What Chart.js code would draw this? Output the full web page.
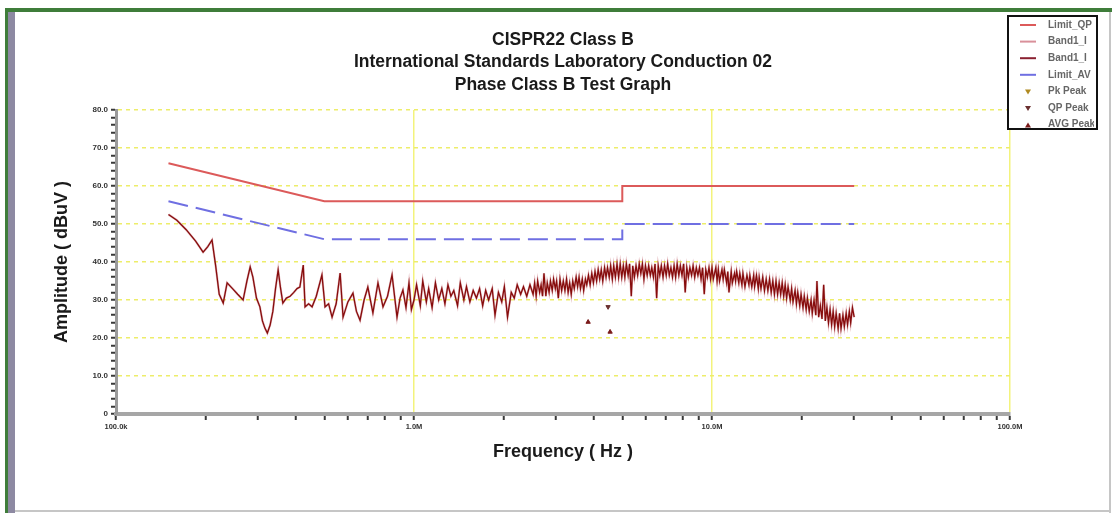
<!DOCTYPE html>
<html>
<head>
<meta charset="utf-8">
<script src="https://cdn.jsdelivr.net/npm/chart.js@4.4.1/dist/chart.umd.min.js"></script>
<style>
  html, body { margin: 0; padding: 0; background: #fff; }
  canvas { display: block; }
</style>
</head>
<body>
<canvas id="chart" width="1112" height="513"></canvas>
<script>
const titleLines = ['CISPR22 Class B', 'International Standards Laboratory Conduction 02', 'Phase Class B Test Graph'];

// limit lines (Hz, dBuV)
const limitFreq = [150e3, 500e3, 5e6, 5e6, 30e6];
const limitQP = [66, 56, 56, 60, 60];
const limitAV = [56, 46, 46, 50, 50];

// scan trace, frequency in MHz
const bandFreq = [
  0.150, 0.160, 0.172, 0.185, 0.196, 0.203, 0.210, 0.216, 0.222, 0.229,
  0.236, 0.246, 0.256, 0.267, 0.275, 0.282, 0.288, 0.296, 0.304, 0.310,
  0.316, 0.322, 0.329, 0.336, 0.343, 0.350, 0.356, 0.363, 0.373, 0.384,
  0.395, 0.405, 0.414, 0.425, 0.431, 0.443, 0.455, 0.470, 0.491, 0.503,
  0.517, 0.531, 0.548, 0.565, 0.578, 0.600, 0.624, 0.641, 0.659, 0.680,
  0.700, 0.728, 0.757, 0.787, 0.815, 0.844, 0.877, 0.898, 0.918, 0.940,
  0.962, 0.980,
  1.00, 1.02, 1.05, 1.07, 1.10, 1.12, 1.15, 1.18, 1.21, 1.24,
  1.27, 1.30, 1.33, 1.36, 1.40, 1.43, 1.47, 1.50, 1.54, 1.58,
  1.62, 1.66, 1.70, 1.74, 1.78, 1.83, 1.87, 1.92, 1.97, 2.01,
  2.06, 2.12, 2.17, 2.22, 2.28, 2.33, 2.39, 2.45,
  2.51, 2.54, 2.57, 2.60, 2.64, 2.67, 2.70, 2.73, 2.77, 2.80,
  2.84, 2.87, 2.91, 2.94, 2.98, 3.01, 3.05, 3.09, 3.13, 3.17,
  3.21, 3.25, 3.29, 3.33, 3.37, 3.41, 3.45, 3.50, 3.54, 3.58,
  3.62, 3.67, 3.71, 3.76, 3.80, 3.85, 3.90, 3.95, 4.00, 4.05,
  4.10, 4.15, 4.20, 4.25, 4.30, 4.36, 4.41, 4.46, 4.52, 4.57,
  4.63, 4.68, 4.74, 4.80, 4.86, 4.92, 4.98, 5.04, 5.10, 5.16,
  5.23, 5.29, 5.36, 5.42, 5.49, 5.56, 5.63, 5.70, 5.77, 5.84,
  5.91, 5.98, 6.06, 6.13, 6.21, 6.28, 6.36, 6.44, 6.52, 6.60,
  6.68, 6.76, 6.85, 6.93, 7.02, 7.10, 7.19, 7.28, 7.37, 7.46,
  7.55, 7.64, 7.74, 7.83, 7.93, 8.03, 8.13, 8.23, 8.33, 8.43,
  8.54, 8.64, 8.75, 8.86, 8.97, 9.08, 9.19, 9.30, 9.42, 9.53,
  9.65, 9.77, 9.89, 10.0, 10.1, 10.3, 10.4, 10.5, 10.6, 10.8,
  10.9, 11.0, 11.2, 11.3, 11.4, 11.6, 11.7, 11.9, 12.0, 12.1,
  12.3, 12.4, 12.6, 12.7, 12.9, 13.1, 13.3, 13.4, 13.6, 13.8,
  13.9, 14.1, 14.3, 14.4, 14.6, 14.8, 15.0, 15.2, 15.4, 15.6,
  15.8, 16.0, 16.2, 16.4, 16.6, 16.8, 17.0, 17.2, 17.4, 17.6,
  17.8, 18.0, 18.3, 18.5, 18.7, 19.0, 19.2, 19.4, 19.7, 19.9,
  20.2, 20.4, 20.7, 20.9, 21.2, 21.5, 21.7, 22.0, 22.3, 22.5,
  22.8, 23.1, 23.4, 23.7, 24.0, 24.3, 24.6, 24.9, 25.2, 25.5,
  25.8, 26.1, 26.5, 26.8, 27.1, 27.5, 27.8, 28.2, 28.5, 28.9,
  29.2, 29.6, 30.0
];
const bandLevel = [
  52.5, 51, 48.5, 45.5, 42.6, 44, 45.8, 39, 31.5, 29.2,
  34.5, 33, 31.5, 30, 35, 38.7, 36, 30.5, 28.2, 24.5,
  22.6, 21.3, 23.4, 27, 33, 37.9, 33.5, 29.2, 30.5, 31,
  32, 33, 33.4, 39.2, 28.2, 29, 28.2, 31, 36.6, 28.2,
  29, 25.5, 29, 37.1, 25.5, 29.5, 31.8, 27, 24.7, 30,
  33.4, 26.6, 34.5, 28.2, 31, 36.6, 25.5, 30.5, 32.6, 28,
  34.5, 27.5,
  30, 34, 28.5, 35, 29.5, 33, 28, 34.5, 30, 33,
  29, 34, 31, 32.5, 28.5, 34.5, 30, 33.5, 29.5, 32.5,
  30.5, 33, 28.5, 32.5, 30, 33, 26, 32, 29.5, 33.5,
  25.5, 32, 30.5, 34, 31.5, 33.5, 31, 34,
  31.5, 34.5, 31, 35, 32, 34, 31, 37, 31, 34.5,
  32, 35, 32.5, 35.5, 33, 35, 30.5, 35.5, 32.5, 35,
  32.5, 35.5, 32, 34.5, 31.5, 35, 33, 36, 33.5, 36,
  33, 35.5, 32.5, 35.5, 34, 36.5, 34, 37, 34.5, 37.5,
  35, 38, 35.5, 38, 35, 38.5, 36, 38.5, 36, 39,
  35.5, 39, 36, 39.5, 36, 39.5, 36, 39, 36, 39.5,
  36.5, 39.5, 31, 39, 36, 39, 36.5, 39.5, 37, 39.5,
  35.5, 39, 36.5, 39, 36.5, 38.5, 36, 39.5, 30.5, 39,
  36.5, 39, 36, 39, 36.5, 39.5, 36.5, 38.5, 36, 39,
  36, 39.5, 36.5, 39, 36.5, 39.5, 32, 38.5, 36, 38.5,
  36.5, 39, 36, 38.5, 36.5, 38.5, 35.5, 38.5, 31.5, 38,
  36, 38.5, 35.5, 38.5, 35.5, 38.5, 35, 38, 35, 38,
  35.5, 38, 34.5, 37.5, 32, 37.5, 34.5, 37, 35, 37.5,
  34.5, 37, 34, 37, 33.5, 36.5, 34, 36.5, 33.5, 36.5,
  33.5, 36.5, 33, 36, 33, 36, 32.5, 35.5, 32.5, 35.5,
  32, 35, 31.5, 35, 31.5, 34.5, 31.5, 34.5, 31, 34,
  30.5, 33.5, 30, 33, 29.5, 32.5, 29, 32, 28.5, 31.5,
  28, 31, 27.5, 30.5, 27, 30, 26.5, 30, 26, 35,
  25.5, 28.5, 25, 34, 24.5, 28, 24, 27.5, 23.5, 27,
  23, 26.5, 22.5, 26.5, 22.5, 26, 23, 26.5, 23.5, 27,
  24, 28, 25.5
];

// marker points (MHz, dBuV)
const pkPeakFreq = [];
const pkPeakLevel = [];
const qpPeakFreq = [4.48];
const qpPeakLevel = [28.2];
const avgPeakFreq = [3.84, 4.55];
const avgPeakLevel = [24.2, 21.6];

const xMajorTicks = [1e5, 1e6, 1e7, 1e8];
const xTickLabels = ['100.0k', '1.0M', '10.0M', '100.0M'];
const xMinorSteps = [2, 3, 4, 5, 6, 7, 8, 9];

const FONT = '"Liberation Sans", Arial, sans-serif';

const toPoints = (fs, vs, k) => fs.map((f, i) => ({ x: f * k, y: vs[i] }));

const framePlugin = {
  id: 'frame',
  beforeDraw(chart) {
    const { ctx, width, height } = chart;
    ctx.save();
    ctx.fillStyle = '#fff';
    ctx.fillRect(0, 0, width, height);
    ctx.fillStyle = '#3f7d3a';
    ctx.fillRect(5, 8, width - 5, 4);
    ctx.fillRect(5, 8, 3, height - 8);
    ctx.fillStyle = '#8d89a2';
    ctx.fillRect(8, 12, 7, height - 12);
    ctx.fillStyle = '#c6c6c6';
    ctx.fillRect(1109, 12, 2, height - 12);
    ctx.fillRect(15, 510, 1094, 2);
    ctx.restore();
  }
};

const legendPlugin = {
  id: 'boxLegend',
  afterDraw(chart) {
    const { ctx } = chart;
    const x0 = 1008, y0 = 16, w = 89, h = 113;
    ctx.save();
    ctx.fillStyle = '#fff';
    ctx.fillRect(x0, y0, w, h);
    ctx.strokeStyle = '#111';
    ctx.lineWidth = 2;
    ctx.strokeRect(x0, y0, w, h);
    ctx.beginPath();
    ctx.rect(x0 + 1, y0 + 1, w - 4, h - 2);
    ctx.clip();
    ctx.font = 'bold 10px ' + FONT;
    ctx.textBaseline = 'middle';
    chart.data.datasets.forEach((ds, i) => {
      const y = y0 + 9 + i * 16.6;
      if (ds.showLine === false) {
        ctx.fillStyle = ds.pointBackgroundColor;
        ctx.beginPath();
        if (ds.pointRotation === 180) {
          ctx.moveTo(x0 + 17, y - 2); ctx.lineTo(x0 + 23, y - 2); ctx.lineTo(x0 + 20, y + 3);
        } else {
          ctx.moveTo(x0 + 17, y + 3); ctx.lineTo(x0 + 23, y + 3); ctx.lineTo(x0 + 20, y - 2);
        }
        ctx.fill();
      } else {
        ctx.strokeStyle = ds.legendColor || ds.borderColor;
        ctx.lineWidth = 2;
        ctx.beginPath();
        ctx.moveTo(x0 + 12, y);
        ctx.lineTo(x0 + 28, y);
        ctx.stroke();
      }
      ctx.fillStyle = '#666';
      ctx.fillText(ds.label, x0 + 40, y);
    });
    ctx.restore();
  }
};

new Chart(document.getElementById('chart'), {
  type: 'line',
  data: {
    datasets: [
      { label: 'Limit_QP', data: toPoints(limitFreq, limitQP, 1), borderColor: '#dc5a5a', borderWidth: 2, pointRadius: 0, order: 0 },
      { label: 'Band1_I', data: toPoints(bandFreq, bandLevel, 1e6), borderColor: 'rgba(200,110,120,0.5)', legendColor: '#d9909a', borderWidth: 2.2, pointRadius: 0, order: 3 },
      { label: 'Band1_I', data: toPoints(bandFreq, bandLevel, 1e6), borderColor: '#860c0c', legendColor: '#8a2030', borderWidth: 1.3, pointRadius: 0, order: 2 },
      { label: 'Limit_AV', data: toPoints(limitFreq, limitAV, 1), borderColor: '#6f6fe2', borderWidth: 2, borderDash: [20, 8], pointRadius: 0, order: 0 },
      { label: 'Pk Peak', data: toPoints(pkPeakFreq, pkPeakLevel, 1e6), showLine: false, pointStyle: 'triangle', pointRotation: 180, pointRadius: 3, pointBackgroundColor: '#b08a20', pointBorderColor: '#b08a20', order: -1 },
      { label: 'QP Peak', data: toPoints(qpPeakFreq, qpPeakLevel, 1e6), showLine: false, pointStyle: 'triangle', pointRotation: 180, pointRadius: 2.5, pointBackgroundColor: '#6a3030', pointBorderColor: '#6a3030', order: -1 },
      { label: 'AVG Peak', data: toPoints(avgPeakFreq, avgPeakLevel, 1e6), showLine: false, pointStyle: 'triangle', pointRotation: 0, pointRadius: 2.5, pointBackgroundColor: '#7a1a1a', pointBorderColor: '#7a1a1a', order: -1 }
    ]
  },
  options: {
    responsive: false,
    animation: false,
    layout: { padding: { left: 16, right: 102, top: 0, bottom: 0 } },
    plugins: {
      legend: { display: false },
      tooltip: { enabled: false },
      title: {
        display: true,
        text: titleLines,
        fullSize: false,
        color: '#1a1a1a',
        font: { family: FONT, size: 17.5, weight: 'bold', lineHeight: 1.286 },
        padding: { top: 28.75, bottom: 13.75 }
      }
    },
    scales: {
      x: {
        type: 'logarithmic',
        min: 1e5,
        max: 1e8,
        afterBuildTicks: (scale) => {
          const ticks = [];
          xMajorTicks.forEach((v, i) => {
            ticks.push({ value: v });
            if (i < xMajorTicks.length - 1) xMinorSteps.forEach(m => ticks.push({ value: v * m }));
          });
          scale.ticks = ticks;
        },
        afterFit: (scale) => { scale.height = 99; },
        ticks: {
          autoSkip: false, maxRotation: 0, minRotation: 0, padding: 2,
          color: '#333', font: { family: FONT, size: 7.5, weight: 'bold' },
          callback: (v) => { const i = xMajorTicks.indexOf(v); return i >= 0 ? xTickLabels[i] : ''; }
        },
        grid: {
          color: (c) => (c.tick && xMajorTicks.indexOf(c.tick.value) > 0 ? '#f3f37c' : 'rgba(0,0,0,0)'),
          lineWidth: 1.5,
          tickColor: '#3a3a3a',
          tickWidth: 2,
          tickLength: 6,
          tickBorderDash: []
        },
        border: { color: '#a6a6a6', width: 4 },
        title: {
          display: true, text: 'Frequency ( Hz )', color: '#1a1a1a',
          font: { family: FONT, size: 18, weight: 'bold' },
          padding: { top: 0, bottom: 50 }
        }
      },
      y: {
        min: 0,
        max: 80,
        afterFit: (scale) => { scale.width = 100; },
        ticks: {
          stepSize: 2, autoSkip: false, padding: 3,
          color: '#333', font: { family: FONT, size: 8, weight: 'bold' },
          callback: (v) => (v % 10 === 0 ? (v === 0 ? '0' : v.toFixed(1)) : '')
        },
        grid: {
          color: (c) => (c.tick && c.tick.value % 10 === 0 && c.tick.value > 0 ? '#eded6a' : 'rgba(0,0,0,0)'),
          lineWidth: 1.5,
          tickColor: '#3a3a3a',
          tickWidth: 2,
          tickLength: 5,
          tickBorderDash: []
        },
        border: { color: '#9a9a9a', width: 3, dash: [4, 4] },
        title: {
          display: true, text: 'Amplitude ( dBuV )', color: '#1a1a1a',
          font: { family: FONT, size: 18, weight: 'bold' },
          padding: { top: 35, bottom: 0 }
        }
      }
    }
  },
  plugins: [framePlugin, legendPlugin]
});
</script>
</body>
</html>
